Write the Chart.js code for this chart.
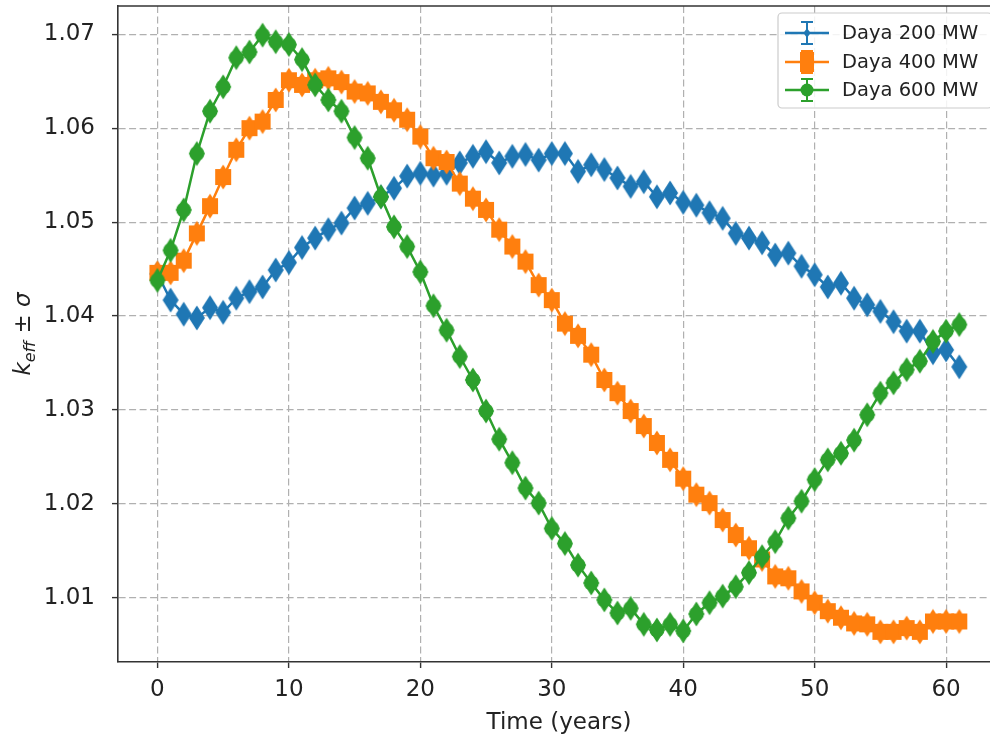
<!DOCTYPE html>
<html>
<head>
<meta charset="utf-8">
<script src="https://cdn.jsdelivr.net/npm/chart.js@4"></script>
<style>
  html, body { margin: 0; padding: 0; background: #fff; overflow: hidden; }
  #wrap { width: 1000px; height: 740px; }
</style>
</head>
<body>
<div id="wrap"><canvas id="kChart" width="1000" height="740"></canvas></div>
<script>
// ─── data ──────────────────────────────────────────────────────
var years = [0, 1, 2, 3, 4, 5, 6, 7, 8, 9, 10, 11, 12, 13, 14, 15, 16, 17, 18, 19,
             20, 21, 22, 23, 24, 25, 26, 27, 28, 29, 30, 31, 32, 33, 34, 35, 36, 37, 38, 39,
             40, 41, 42, 43, 44, 45, 46, 47, 48, 49, 50, 51, 52, 53, 54, 55, 56, 57, 58, 59,
             60, 61];

var daya200 = [1.0445, 1.0417, 1.0402, 1.0398, 1.0409, 1.0404, 1.0419, 1.0426, 1.0431, 1.0449,
               1.0457, 1.0473, 1.0483, 1.0492, 1.0499, 1.0515, 1.0520, 1.0527, 1.0536, 1.0549,
               1.0552, 1.0550, 1.0552, 1.0563, 1.0570, 1.0575, 1.0563, 1.0570, 1.0572, 1.0566,
               1.0573, 1.0573, 1.0554, 1.0561, 1.0556, 1.0547, 1.0538, 1.0543, 1.0527, 1.0531,
               1.0521, 1.0518, 1.0510, 1.0504, 1.0488, 1.0483, 1.0478, 1.0465, 1.0467, 1.0453,
               1.0444, 1.0431, 1.0435, 1.0419, 1.0412, 1.0405, 1.0394, 1.0384, 1.0384, 1.0361,
               1.0364, 1.0346];

var daya400 = [1.0446, 1.0446, 1.0459, 1.0488, 1.0517, 1.0548, 1.0577, 1.0600, 1.0607, 1.0630,
               1.0651, 1.0646, 1.0651, 1.0653, 1.0649, 1.0639, 1.0637, 1.0628, 1.0619, 1.0609,
               1.0591, 1.0568, 1.0564, 1.0541, 1.0525, 1.0513, 1.0492, 1.0474, 1.0458, 1.0433,
               1.0417, 1.0392, 1.0379, 1.0359, 1.0332, 1.0318, 1.0299, 1.0283, 1.0265, 1.0247,
               1.0227, 1.0210, 1.0201, 1.0183, 1.0167, 1.0153, 1.0141, 1.0123, 1.0121, 1.0107,
               1.0095, 1.0086, 1.0079, 1.0073, 1.0072, 1.0064, 1.0064, 1.0068, 1.0064, 1.0075,
               1.0075, 1.0075];

var daya600 = [1.0438, 1.0470, 1.0513, 1.0573, 1.0618, 1.0644, 1.0675, 1.0681, 1.0699, 1.0692,
               1.0689, 1.0673, 1.0646, 1.0630, 1.0618, 1.0590, 1.0568, 1.0527, 1.0495, 1.0474,
               1.0447, 1.0411, 1.0385, 1.0357, 1.0332, 1.0299, 1.0269, 1.0244, 1.0217, 1.0201,
               1.0174, 1.0158, 1.0135, 1.0116, 1.0098, 1.0084, 1.0089, 1.0072, 1.0066, 1.0072,
               1.0065, 1.0083, 1.0095, 1.0102, 1.0112, 1.0127, 1.0144, 1.0160, 1.0185, 1.0203,
               1.0226, 1.0247, 1.0254, 1.0268, 1.0295, 1.0318, 1.0329, 1.0343, 1.0352, 1.0373,
               1.0384, 1.0391];

var xTicks = [0, 10, 20, 30, 40, 50, 60];
var yTicks = [1.01, 1.02, 1.03, 1.04, 1.05, 1.06, 1.07];

// ─── markers (thin diamond + errorbar marker) ──────────────────
var FONT = "'DejaVu Sans', sans-serif";
var C_BLUE = '#1f77b4', C_ORANGE = '#ff7f0e', C_GREEN = '#2ca02c';

function markerCanvas(color, extra) {
    var w = 20, h = 28;
    var c = document.createElement('canvas');
    c.width = w; c.height = h;
    var g = c.getContext('2d');
    g.fillStyle = color;
    g.beginPath();
    g.moveTo(w / 2, 1.5);
    g.lineTo(w / 2 + 8, h / 2);
    g.lineTo(w / 2, h - 1.5);
    g.lineTo(w / 2 - 8, h / 2);
    g.closePath();
    g.fill();
    if (extra === 'square') g.fillRect(w / 2 - 8, h / 2 - 8, 16, 16);
    if (extra === 'circle') { g.beginPath(); g.arc(w / 2, h / 2, 7.5, 0, Math.PI * 2); g.fill(); }
    return c;
}

function series(label, vals, color, marker, order) {
    return {
        label: label,
        data: years.map(function (t, i) { return { x: t, y: vals[i] }; }),
        borderColor: color,
        backgroundColor: color,
        borderWidth: 2.5,
        pointStyle: marker,
        pointRadius: 9,
        tension: 0,
        order: order
    };
}

// ─── extras: top spine, y label, matplotlib-ish legend ─────────
var extrasPlugin = {
    id: 'extras',
    afterDraw: function (chart) {
        var ctx = chart.ctx, a = chart.chartArea;
        ctx.save();

        // top spine
        ctx.strokeStyle = '#333';
        ctx.lineWidth = 1.6;
        ctx.beginPath();
        ctx.moveTo(a.left, a.top);
        ctx.lineTo(chart.width, a.top);
        ctx.stroke();

        // y label: k_eff ± σ
        ctx.translate(30, (a.top + a.bottom) / 2);
        ctx.rotate(-Math.PI / 2);
        ctx.fillStyle = '#222';
        ctx.textBaseline = 'alphabetic';
        var parts = [
            { t: 'k', f: 'italic 23px ' + FONT, dy: 0 },
            { t: 'eff', f: 'italic 16px ' + FONT, dy: 5 },
            { t: ' \u00b1 ', f: '23px ' + FONT, dy: 0 },
            { t: '\u03c3', f: 'italic 23px ' + FONT, dy: 0 }
        ];
        var total = 0;
        parts.forEach(function (p) { ctx.font = p.f; p.w = ctx.measureText(p.t).width; total += p.w; });
        var x = -total / 2;
        parts.forEach(function (p) { ctx.font = p.f; ctx.fillText(p.t, x, p.dy); x += p.w; });
        ctx.restore();

        // legend
        ctx.save();
        var bx = 778, by = 13, bw = 214, bh = 95;
        ctx.fillStyle = 'rgba(255,255,255,0.85)';
        ctx.strokeStyle = '#cccccc';
        ctx.lineWidth = 1.2;
        ctx.beginPath();
        ctx.roundRect(bx, by, bw, bh, 4);
        ctx.fill();
        ctx.stroke();

        var rows = [33, 62, 90];
        var kinds = ['diamond', 'square', 'circle'];
        chart.data.datasets.forEach(function (ds, i) {
            var y = rows[i], cx = 807;
            ctx.strokeStyle = ds.borderColor;
            ctx.fillStyle = ds.borderColor;
            ctx.lineWidth = 2.5;
            ctx.beginPath();
            ctx.moveTo(785, y); ctx.lineTo(829, y);
            ctx.stroke();
            // errorbar with caps
            ctx.lineWidth = 2;
            ctx.beginPath();
            ctx.moveTo(cx, y - 11); ctx.lineTo(cx, y + 11);
            ctx.moveTo(cx - 6, y - 11); ctx.lineTo(cx + 6, y - 11);
            ctx.moveTo(cx - 6, y + 11); ctx.lineTo(cx + 6, y + 11);
            ctx.stroke();
            ctx.beginPath();
            if (kinds[i] === 'diamond') {
                ctx.moveTo(cx, y - 5); ctx.lineTo(cx + 3.5, y); ctx.lineTo(cx, y + 5); ctx.lineTo(cx - 3.5, y);
                ctx.closePath(); ctx.fill();
            } else if (kinds[i] === 'square') {
                ctx.fillRect(cx - 7, y - 10, 14, 20);
            } else {
                ctx.arc(cx, y, 6.5, 0, Math.PI * 2); ctx.fill();
            }
            ctx.fillStyle = '#222';
            ctx.font = '19.5px ' + FONT;
            ctx.textBaseline = 'middle';
            ctx.fillText(ds.label, 842, y + 1);
        });
        ctx.restore();
    }
};

// ─── chart ─────────────────────────────────────────────────────
var ctx = document.getElementById('kChart').getContext('2d');

var myChart = new Chart(ctx, {
    type: 'line',
    data: {
        datasets: [
            series('Daya 200 MW', daya200, C_BLUE, markerCanvas(C_BLUE, null), 3),
            series('Daya 400 MW', daya400, C_ORANGE, markerCanvas(C_ORANGE, 'square'), 2),
            series('Daya 600 MW', daya600, C_GREEN, markerCanvas(C_GREEN, 'circle'), 1)
        ]
    },
    options: {
        responsive: false,
        animation: false,
        events: [],
        layout: { autoPadding: false, padding: { top: 6, left: 0, right: 0, bottom: 0 } },
        plugins: { legend: { display: false }, tooltip: { enabled: false } },
        scales: {
            x: {
                type: 'linear',
                min: -3.0,
                max: 64.1,
                afterBuildTicks: function (axis) { axis.ticks = xTicks.map(function (v) { return { value: v }; }); },
                afterFit: function (s) { s.height = 78; s.paddingLeft = 0; s.paddingRight = 0; },
                ticks: {
                    color: '#222', padding: 8, maxRotation: 0,
                    font: { family: FONT, size: 23 },
                    callback: function (v) { return String(v); }
                },
                grid: { color: '#b0b0b0', lineWidth: 1.2, tickColor: '#333', tickLength: 6, tickWidth: 1.4 },
                border: { color: '#333', width: 1.6, dash: [7, 3.5] },
                title: {
                    display: true, text: 'Time (years)', color: '#222',
                    font: { family: FONT, size: 23 }, padding: { top: 0, bottom: 3 }
                }
            },
            y: {
                min: 1.00319,
                max: 1.0730,
                afterBuildTicks: function (axis) { axis.ticks = yTicks.map(function (v) { return { value: v }; }); },
                afterFit: function (s) { s.width = 118; s.paddingTop = 0; s.paddingBottom = 0; },
                ticks: {
                    color: '#222', padding: 17,
                    font: { family: FONT, size: 23 },
                    callback: function (v) { return v.toFixed(2); }
                },
                grid: { color: '#b0b0b0', lineWidth: 1.2, tickColor: '#333', tickLength: 6, tickWidth: 1.4 },
                border: { color: '#333', width: 1.6, dash: [7, 3.5] }
            }
        }
    },
    plugins: [extrasPlugin]
});
</script>
</body>
</html>
